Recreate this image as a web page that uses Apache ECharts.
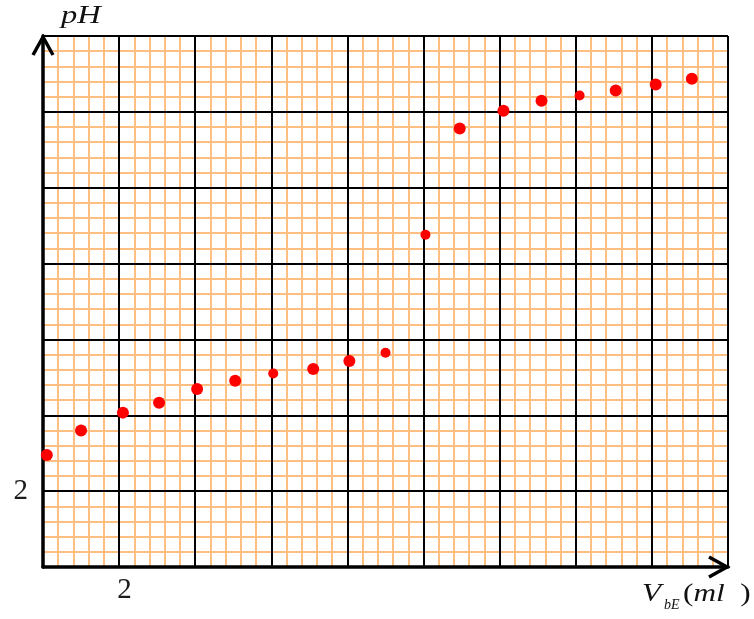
<!DOCTYPE html>
<html>
<head>
<meta charset="utf-8">
<script src="https://cdn.jsdelivr.net/npm/echarts@6/dist/echarts.min.js"></script>
<style>
  html, body { margin: 0; padding: 0; background: #ffffff; }
  #chart { width: 754px; height: 619px; }
</style>
</head>
<body>
<div id="chart"></div>
<script>
// Titration curve: pH against added base volume (ml)
const volume = [0.1, 1.0, 2.1, 3.05, 4.05, 5.05, 6.05, 7.1, 8.05, 9.0, 10.05, 10.95, 12.1, 13.1, 14.1, 15.05, 16.1, 17.05];
const pH     = [2.95, 3.6, 4.07, 4.33, 4.69, 4.91, 5.1, 5.22, 5.43, 5.65, 8.76, 11.56, 12.03, 12.29, 12.43, 12.56, 12.72, 12.87];

// Only one graduation is labelled on each axis
const xTickLabels = ['2'];
const yTickLabels = ['2'];

const X_MAX = 18, Y_MAX = 14;
const SERIF = '"Liberation Serif", "DejaVu Serif", serif';
const ORANGE = '#ffbf80';
const INK = '#000000';

// a few dots were plotted with a slightly smaller pen
const smallDots = new Set([6, 9, 10, 14]);

const points = volume.map((v, i) => ({
  value: [v, pH[i]],
  symbolSize: smallDots.has(i) ? 10 : 12
}));

const chart = echarts.init(document.getElementById('chart'), null, { renderer: 'canvas' });

const minorAxis = (max, pos) => ({
  type: 'value', min: 0, max: max, interval: 0.4, position: pos,
  axisLine: { show: false }, axisTick: { show: false }, axisLabel: { show: false },
  splitLine: { show: true, lineStyle: { color: ORANGE, width: 2 } },
  z: 1
});

const majorLabel = (list, extra) => Object.assign({
  show: true,
  formatter: (v) => (list.indexOf(String(v)) >= 0 ? String(v) : ''),
  fontFamily: SERIF, fontSize: 29, color: '#1c1c1c'
}, extra);

const option = {
  animation: false,
  backgroundColor: '#ffffff',
  grid: { left: 43, top: 36, width: 685, height: 531, containLabel: false, outerBoundsMode: 'none' },
  xAxis: [
    minorAxis(X_MAX, 'bottom'),
    {
      type: 'value', min: 0, max: X_MAX, interval: 2, position: 'bottom',
      axisLine: { show: true, onZero: false, lineStyle: { color: INK, width: 3.5 } },
      axisTick: { show: false },
      axisLabel: majorLabel(xTickLabels, { margin: 9, padding: [0, 0, 0, 11] }),
      splitLine: { show: true, lineStyle: { color: INK, width: 2 } },
      z: 2
    }
  ],
  yAxis: [
    minorAxis(Y_MAX, 'left'),
    {
      type: 'value', min: 0, max: Y_MAX, interval: 2, position: 'left',
      axisLine: { show: true, onZero: false, lineStyle: { color: INK, width: 3.5 } },
      axisTick: { show: false },
      axisLabel: majorLabel(yTickLabels, { margin: 15 }),
      splitLine: { show: true, lineStyle: { color: INK, width: 2 } },
      z: 2
    }
  ],
  series: [{
    type: 'scatter',
    xAxisIndex: 1, yAxisIndex: 1,
    data: points,
    symbol: 'circle',
    itemStyle: { color: '#ff0000', opacity: 1 },
    z: 5
  }]
};

chart.setOption(option);

// Open arrowheads at the ends of both axes, plus the axis titles
const origin = chart.convertToPixel({ gridIndex: 0 }, [0, 0]);
const far = chart.convertToPixel({ gridIndex: 0 }, [X_MAX, Y_MAX]);
const L = 19, H = 10;
const arrowStyle = { stroke: INK, lineWidth: 3.5, fill: 'none', lineJoin: 'miter', lineCap: 'butt' };
const WIDE = 1.25; // axis titles are set in a slightly expanded face

chart.setOption({
  graphic: [
    { type: 'polyline', z: 20, shape: { points: [[origin[0] - H, far[1] + L], [origin[0], far[1] + 1], [origin[0] + H, far[1] + L]] }, style: arrowStyle },
    { type: 'polyline', z: 20, shape: { points: [[far[0] - L, origin[1] - H], [far[0] - 1, origin[1]], [far[0] - L, origin[1] + H]] }, style: arrowStyle },
    { type: 'text', z: 20, x: 61, y: 4, scaleX: 1.3, style: { text: 'pH', font: 'italic 25px ' + SERIF, fill: '#111' } },
    { type: 'text', z: 20, x: 642, y: 582, scaleX: WIDE, style: { text: 'V', font: 'italic 25px ' + SERIF, fill: '#111' } },
    { type: 'text', z: 20, x: 664, y: 598, style: { text: 'bE', font: 'italic 14px ' + SERIF, fill: '#111' } },
    {
      type: 'text', z: 20, x: 683, y: 582, scaleX: WIDE,
      style: {
        text: '{p|(}{i|ml  }{p|)}',
        rich: {
          p: { font: '25px ' + SERIF, fill: '#111' },
          i: { font: 'italic 25px ' + SERIF, fill: '#111' }
        }
      }
    }
  ]
});
</script>
</body>
</html>
